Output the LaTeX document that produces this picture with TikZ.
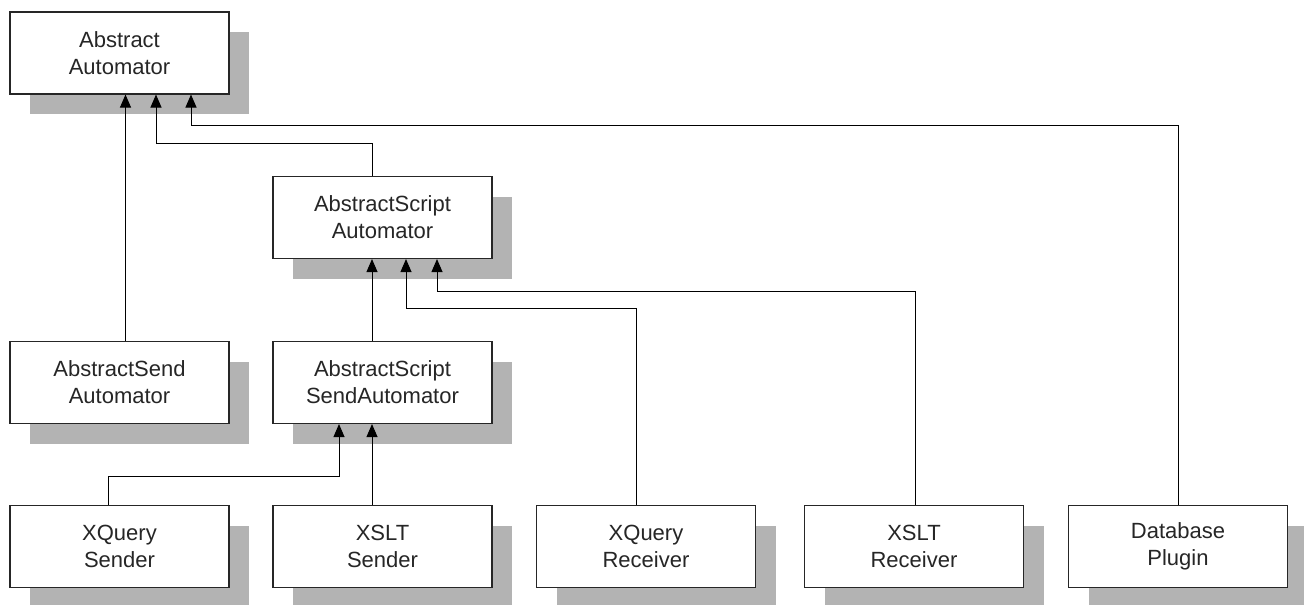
\documentclass[tikz,border=0pt]{standalone}
\usepackage{fontspec}
\setmainfont{Liberation Sans}
\usepackage{xcolor}
\definecolor{ShadowGray}{HTML}{B3B3B3}
\usepackage{tikz}
\usetikzlibrary{arrows.meta,shadows}

\begin{document}
\begin{tikzpicture}[
  x=1pt, y=-1pt,
  box/.style={draw=black!85, line width=1.1pt, fill=white, minimum width=219pt, minimum height=82pt, inner sep=0pt, align=center, text=black!85, font=\fontsize{22}{27}\selectfont,
    general shadow={fill=ShadowGray, draw=none, shadow xshift=20pt, shadow yshift=-20pt}},
  arrow/.style={-{Triangle[length=13pt, width=11pt]}, line width=1pt, draw=black},
]
\useasboundingbox (0,0) rectangle (1304,605);
\node[box] (aa) at (119.5,53) {Abstract\\Automator};
\node[box] (asa) at (382.5,217.5) {AbstractScript\\Automator};
\node[box] (abssend) at (119.5,382.5) {AbstractSend\\Automator};
\node[box] (assa) at (382.5,382.5) {AbstractScript\\SendAutomator};
\node[box] (xqsend) at (119.5,546.5) {XQuery\\Sender};
\node[box] (xsltsend) at (382.5,546.5) {XSLT\\Sender};
\node[box] (xqrecv) at (646,546.5) {XQuery\\Receiver};
\node[box] (xsltrecv) at (914,546.5) {XSLT\\Receiver};
\node[box] (dbplug) at (1178,546.5) {Database\\Plugin};
\draw[arrow] ([xshift=6pt]abssend.north) -- ([xshift=6pt]aa.south);
\draw[arrow] ([xshift=-10.5pt]asa.north) -- ++(0,-32) -| ([xshift=36.5pt]aa.south);
\draw[arrow] (dbplug.north) -- ++(0,-379) -| ([xshift=71.5pt]aa.south);
\draw[arrow] ([xshift=-10.5pt]assa.north) -- ([xshift=-10.5pt]asa.south);
\draw[arrow] ([xshift=-10pt]xqrecv.north) -- ++(0,-196) -| ([xshift=23.5pt]asa.south);
\draw[arrow] ([xshift=1pt]xsltrecv.north) -- ++(0,-213) -| ([xshift=54.5pt]asa.south);
\draw[arrow] ([xshift=-11pt]xqsend.north) -- ++(0,-28) -| ([xshift=-43.5pt]assa.south);
\draw[arrow] ([xshift=-10.5pt]xsltsend.north) -- ([xshift=-10.5pt]assa.south);
\end{tikzpicture}
\end{document}
